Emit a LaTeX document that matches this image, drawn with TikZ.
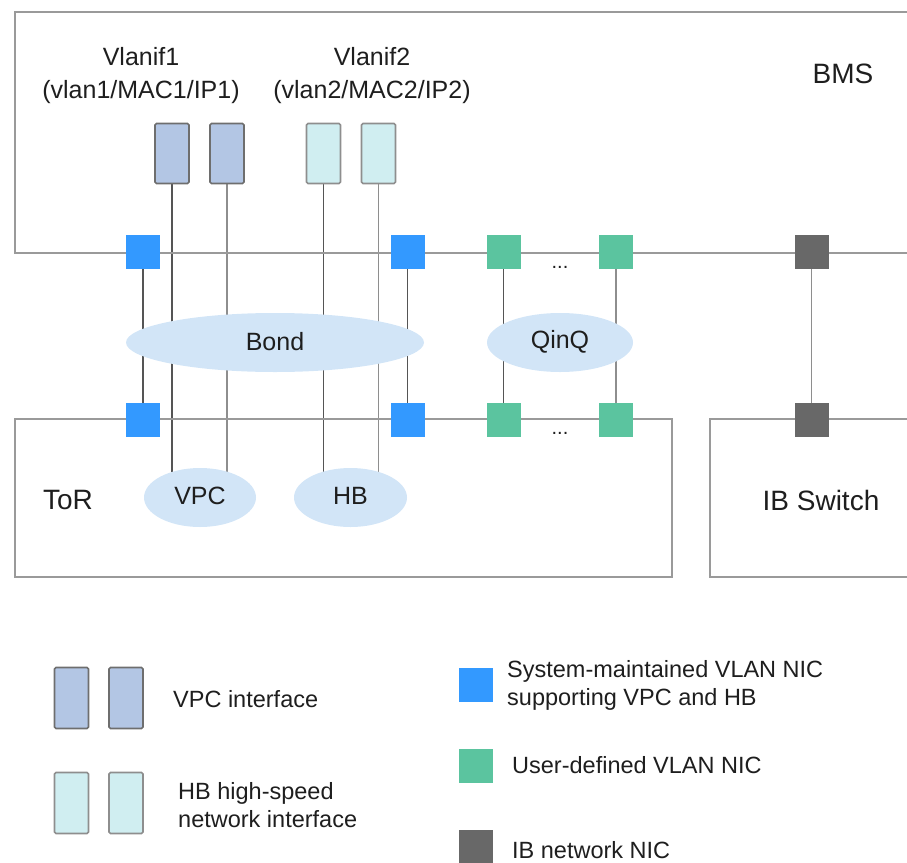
\documentclass[tikz,border=0pt]{standalone}
\usepackage{fontspec}
\setmainfont{Liberation Sans}
\usetikzlibrary{shapes.geometric}
\pgfdeclarelayer{bg}
\pgfsetlayers{bg,main}
\definecolor{nicblue}{HTML}{3399FF}
\definecolor{nicgreen}{HTML}{5BC49F}
\definecolor{nicgray}{HTML}{686868}
\definecolor{vpcfill}{HTML}{B3C6E4}
\definecolor{hbfill}{HTML}{D0EEF1}
\definecolor{ifborder}{HTML}{6E6E6E}
\definecolor{ovalfill}{HTML}{D2E5F7}
\definecolor{boxgray}{HTML}{9A9A9A}
\definecolor{darkline}{HTML}{555555}
\definecolor{lightline}{HTML}{8E8E8E}
\definecolor{txt}{HTML}{1E1E1E}
\begin{document}
\begin{tikzpicture}[x=1pt,y=-1pt,
  nic/.style={minimum size=34pt, inner sep=0pt, draw=none},
  bnic/.style={nic, fill=nicblue},
  gnic/.style={nic, fill=nicgreen},
  inic/.style={nic, fill=nicgray},
  vpcif/.style={draw=ifborder, line width=1.6pt, fill=vpcfill, rounded corners=1.5pt, minimum width=34pt, minimum height=60pt, inner sep=0pt},
  hbif/.style={vpcif, fill=hbfill, draw=lightline},
  box/.style={draw=boxgray, line width=2pt, inner sep=0pt, anchor=north west},
  oval/.style={ellipse, fill=ovalfill, draw=none, inner sep=0pt},
  lbl/.style={font=\fontsize{25}{33}\selectfont, text=txt, inner sep=0pt},
  biglbl/.style={font=\fontsize{28}{33}\selectfont, text=txt, inner sep=0pt},
  leg/.style={font=\fontsize{23.5}{28}\selectfont, text=txt, inner sep=0pt, anchor=west, align=left},
  dots/.style={font=\fontsize{20}{20}\selectfont, text=txt, inner sep=0pt},
  dline/.style={draw=darkline, line width=1.6pt},
  lline/.style={draw=lightline, line width=1.8pt}
]
\useasboundingbox (0,0) rectangle (907,862);
\clip (0,0) rectangle (907,862);

% boxes
\node[box, minimum width=930pt, minimum height=241pt] (bms) at (14,11) {};
\node[box, minimum width=657pt, minimum height=158pt] (tor) at (14,418) {};
\node[box, minimum width=230pt, minimum height=158pt] (ibs) at (709,418) {};

\node[biglbl] (bmslbl) at (843,74) {BMS};
\node[biglbl] (torlbl) at (68,500) {ToR};
\node[biglbl] (ibslbl) at (821,500) {IB Switch};

\node[lbl, align=center] (vl1) at (141,76) {Vlanif1\\(vlan1/MAC1/IP1)};
\node[lbl, align=center] (vl2) at (372,76) {Vlanif2\\(vlan2/MAC2/IP2)};

% interfaces
\node[vpcif] (vpc1) at (172,153.5) {};
\node[vpcif] (vpc2) at (227,153.5) {};
\node[hbif] (hb1) at (323.5,153.5) {};
\node[hbif] (hb2) at (378.5,153.5) {};

% ovals
\node[oval, minimum width=298pt, minimum height=59pt] (bond) at (275,342.5) {};
\node[lbl] (bondlbl) at (275,342) {Bond};
\node[oval, minimum width=146pt, minimum height=59pt] (qinq) at (560,342.5) {};
\node[lbl] (qinqlbl) at (560,342) {QinQ};
\node[oval, minimum width=112pt, minimum height=59pt] (vpce) at (200,497.5) {};
\node[lbl] (vpclbl) at (200,496) {VPC};
\node[oval, minimum width=113pt, minimum height=59pt] (hbe) at (350.5,497.5) {};
\node[lbl] (hblbl) at (350.5,496) {HB};

% NICs
\node[bnic] (b1t) at (143,251.5) {};
\node[bnic] (b2t) at (407.5,251.5) {};
\node[gnic] (g1t) at (503.5,251.5) {};
\node[gnic] (g2t) at (616,251.5) {};
\node[inic] (it) at (811.5,251.5) {};
\node[bnic] (b1b) at (143,420) {};
\node[bnic] (b2b) at (407.5,420) {};
\node[gnic] (g1b) at (503.5,420) {};
\node[gnic] (g2b) at (616,420) {};
\node[inic] (ib) at (811.5,420) {};

\node[dots] (dt) at (560,267) {...};
\node[dots] (db) at (560,433) {...};

% connectors (behind)
\begin{pgfonlayer}{bg}
\draw[dline] (b1t) -- (b1b);
\draw[dline] (b2t) -- (b2b);
\draw[dline] (g1t) -- (g1b);
\draw[lline] (g2t) -- (g2b);
\draw[lline] (it) -- (ib);
\draw[dline] (vpc1.south) -- (vpc1.south |- vpce.center);
\draw[lline] (vpc2.south) -- (vpc2.south |- vpce.center);
\draw[dline] (hb1.south) -- (hb1.south |- hbe.center);
\draw[lline] (hb2.south) -- (hb2.south |- hbe.center);
\end{pgfonlayer}

% legend
\node[vpcif, minimum height=61pt] (lv1) at (71.5,698) {};
\node[vpcif, minimum height=61pt] (lv2) at (126,698) {};
\node[leg] (lvt) at (173,699) {VPC interface};
\node[hbif, minimum height=61pt] (lh1) at (71.5,803) {};
\node[hbif, minimum height=61pt] (lh2) at (126,803) {};
\node[leg] (lht) at (178,805) {HB high-speed\\network interface};
\node[bnic] (lb) at (476,684.5) {};
\node[leg] (lbt) at (507,685) {System-maintained VLAN NIC\\supporting VPC and HB};
\node[gnic] (lg) at (476,765.5) {};
\node[leg] (lgt) at (512,765) {User-defined VLAN NIC};
\node[inic] (li) at (476,847) {};
\node[leg] (lit) at (512,850) {IB network NIC};
\end{tikzpicture}
\end{document}
